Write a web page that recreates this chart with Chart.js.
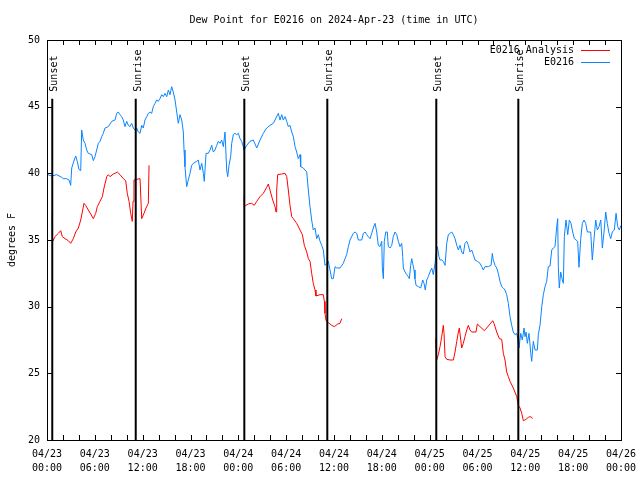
<!DOCTYPE html>
<html>
<head>
<meta charset="utf-8">
<script src="https://cdn.jsdelivr.net/npm/chart.js@4/dist/chart.umd.min.js"></script>
<style>
  html, body { margin: 0; padding: 0; background: #fff; }
  canvas { display: block; }
</style>
</head>
<body>
<canvas id="dew-chart" width="640" height="480"></canvas>
<script>
// Chart text
const FONT = "'DejaVu Sans Mono', monospace";
const chartTitle = 'Dew Point for E0216 on 2024-Apr-23 (time in UTC)';
const yAxisTitle = 'degrees F';
const startMonth = '04';
const startDay = 23;

// Series names / colours
const seriesNames = ['E0216 Analysis', 'E0216'];
const seriesColors = ['#ff0000', '#0a84ff'];

// Sunset / sunrise markers (hours since 04/23 00:00 UTC)
const sunHours = [0.66, 11.13, 24.75, 35.16, 48.83, 59.12];
const sunLabels = ['Sunset', 'Sunrise', 'Sunset', 'Sunrise', 'Sunset', 'Sunrise'];
const sunLineTop = 45.6;

// Observed dew point, E0216 (hours, degrees F)
const blueHours = [
    0.09, 0.59, 1.22, 1.84, 2.04, 2.47, 2.76, 2.97, 3.10, 3.42,
    3.60, 3.80, 4.01, 4.23, 4.35, 4.55, 4.77, 4.98, 5.18, 5.61,
    5.81, 6.02, 6.23, 6.44, 6.65, 6.86, 7.06, 7.28, 7.69, 8.12,
    8.53, 8.74, 8.94, 9.16, 9.37, 9.57, 9.78, 10.0, 10.2, 10.41,
    10.62, 10.83, 11.04, 11.25, 11.45, 11.67, 11.88, 12.08, 12.29, 12.51,
    12.71, 12.92, 13.13, 13.33, 13.55, 13.76, 13.96, 14.17, 14.39, 14.59,
    14.80, 15.02, 15.22, 15.43, 15.64, 15.84, 16.06, 16.27, 16.47, 16.68,
    16.90, 17.10, 17.19, 17.31, 17.52, 17.72, 17.94, 18.15, 18.35, 18.78,
    18.98, 19.19, 19.41, 19.61, 19.73, 19.95, 20.23, 20.45, 20.66, 20.86,
    21.07, 21.29, 21.49, 21.70, 21.91, 22.12, 22.33, 22.54, 22.67, 22.83,
    23.04, 23.17, 23.37, 23.58, 23.80, 24.00, 24.21, 24.42, 24.62, 24.71,
    25.05, 25.46, 25.88, 26.31, 26.72, 27.13, 27.56, 27.97, 28.39, 28.60,
    29.01, 29.23, 29.44, 29.64, 29.86, 30.07, 30.27, 30.48, 30.70, 30.90,
    31.11, 31.32, 31.52, 31.74, 31.82, 32.15, 32.58, 32.78, 32.99, 33.20,
    33.40, 33.62, 33.83, 34.03, 34.25, 34.46, 34.66, 34.87, 35.09, 35.29,
    35.50, 35.71, 35.91, 36.13, 36.34, 36.75, 37.17, 37.38, 37.59, 37.80,
    38.01, 38.42, 38.64, 38.85, 39.05, 39.48, 39.68, 39.89, 40.11, 40.31,
    40.52, 40.73, 40.93, 41.15, 41.36, 41.56, 41.77, 41.99, 42.06, 42.19,
    42.31, 42.49, 42.69, 42.81, 43.03, 43.24, 43.44, 43.65, 43.87, 44.07,
    44.28, 44.50, 44.62, 44.70, 44.91, 45.12, 45.32, 45.45, 45.62, 45.75,
    45.87, 46.04, 46.16, 46.29, 46.58, 46.88, 47.13, 47.29, 47.45, 47.63,
    47.83, 48.04, 48.26, 48.46, 48.67, 48.80, 48.96, 49.17, 49.30, 49.51,
    49.71, 49.93, 50.14, 50.34, 50.55, 50.77, 50.97, 51.18, 51.40, 51.60,
    51.81, 52.02, 52.22, 52.43, 52.65, 52.85, 53.06, 53.27, 53.48, 53.69,
    53.98, 54.32, 54.53, 54.73, 54.94, 55.36, 55.70, 55.86, 55.98, 56.20,
    56.41, 56.61, 56.82, 57.04, 57.24, 57.45, 57.66, 57.87, 58.08, 58.29,
    58.49, 58.71, 58.92, 59.04, 59.21, 59.42, 59.62, 59.84, 59.96, 60.09,
    60.25, 60.46, 60.68, 60.80, 61.00, 61.22, 61.51, 61.63, 61.84, 62.06,
    62.26, 62.47, 62.68, 62.88, 63.10, 63.31, 63.51, 63.72, 63.94, 64.06,
    64.14, 64.26, 64.44, 64.60, 64.77, 64.89, 65.10, 65.32, 65.52, 65.73,
    65.94, 66.15, 66.36, 66.57, 66.73, 66.95, 67.15, 67.36, 67.57, 67.78,
    67.99, 68.20, 68.40, 68.62, 68.83, 69.03, 69.24, 69.46, 69.66, 69.87,
    70.08, 70.28, 70.50, 70.71, 70.91, 71.16, 71.38, 71.59, 71.79, 72.00
];
const blueValues = [
    39.9, 39.8, 39.9, 39.7, 39.6, 39.6, 39.5, 39.1, 40.4, 41.0,
    41.3, 40.9, 40.3, 40.2, 43.25, 42.5, 42.25, 41.75, 41.5, 41.4,
    40.95, 41.25, 41.75, 42.25, 42.4, 42.75, 43.0, 43.4, 43.5, 43.9,
    44.0, 44.5, 44.6, 44.4, 44.25, 44.0, 43.5, 43.9, 43.6, 43.5,
    43.75, 43.4, 43.25, 43.4, 43.1, 43.0, 43.6, 43.4, 44.0, 44.25,
    44.5, 44.6, 44.5, 45.0, 45.25, 45.5, 45.4, 45.6, 45.9, 45.75,
    46.0, 45.75, 46.25, 45.9, 46.5, 46.1, 45.5, 44.6, 43.75, 44.4,
    44.0, 43.1, 41.75, 40.5, 39.0, 39.5, 40.0, 40.6, 40.75, 40.9,
    41.0, 40.25, 40.75, 40.0, 39.4, 41.5, 41.5, 41.75, 42.1, 41.6,
    41.75, 42.1, 42.4, 42.25, 42.5, 42.0, 43.1, 40.25, 39.75, 40.6,
    41.25, 42.25, 42.9, 43.0, 42.9, 43.0, 42.6, 42.4, 42.0, 41.75,
    42.1, 42.4, 42.5, 41.9, 42.5, 43.0, 43.4, 43.6, 43.75, 44.0,
    44.5, 44.0, 44.4, 44.0, 44.25, 43.9, 43.5, 43.6, 43.1, 42.75,
    42.0, 41.6, 41.1, 41.4, 40.5, 40.4, 40.1, 38.75, 37.5, 36.5,
    35.75, 35.9, 35.1, 35.4, 34.9, 34.6, 34.25, 33.1, 33.25, 33.4,
    32.75, 32.1, 32.1, 33.0, 32.9, 32.9, 33.25, 33.6, 33.9, 34.5,
    35.0, 35.5, 35.6, 35.5, 35.0, 35.0, 35.5, 35.6, 35.4, 35.25,
    35.1, 35.5, 35.9, 36.25, 35.6, 34.6, 34.5, 34.9, 33.0, 32.1,
    34.9, 35.6, 35.6, 34.5, 34.4, 34.6, 35.25, 35.6, 35.4, 34.9,
    34.5, 34.75, 33.75, 32.9, 32.6, 32.4, 32.25, 32.1, 33.1, 33.6,
    33.25, 32.75, 32.1, 31.6, 31.5, 31.4, 32.0, 31.75, 31.25, 32.0,
    32.25, 32.6, 32.9, 32.4, 33.25, 33.9, 34.5, 33.75, 33.5, 33.5,
    33.4, 33.1, 34.75, 35.4, 35.5, 35.6, 35.4, 35.1, 34.6, 34.25,
    34.6, 34.1, 33.95, 34.75, 34.9, 34.6, 34.1, 34.25, 33.9, 33.5,
    33.4, 33.25, 33.0, 32.75, 33.0, 33.0, 33.1, 34.0, 33.5, 33.1,
    32.9, 32.5, 31.9, 31.5, 31.4, 31.25, 30.9, 30.25, 29.25, 28.6,
    28.1, 27.9, 28.0, 27.6, 26.9, 28.0, 27.5, 28.4, 27.75, 28.1,
    27.25, 28.0, 26.5, 25.9, 27.4, 26.75, 26.75, 27.9, 28.6, 30.0,
    30.9, 31.5, 31.9, 33.0, 33.05, 34.25, 34.4, 34.5, 36.0, 36.6,
    33.0, 31.4, 32.6, 32.1, 31.75, 35.25, 36.5, 35.4, 36.5, 36.25,
    35.6, 35.1, 35.0, 34.9, 32.95, 35.1, 36.25, 36.5, 36.25, 35.6,
    35.6, 35.6, 33.5, 35.1, 36.5, 35.75, 36.0, 36.5, 34.4, 35.6,
    37.1, 36.25, 35.5, 35.1, 35.6, 35.75, 37.0, 36.0, 35.75, 36.1
];

// Analysis dew point (null = no analysis, line breaks there)
const redHours = [
    0.66, 0.69, 1.00, 1.42, 1.72, 1.92, 2.26, 2.67, 2.97, 3.30,
    3.60, 3.93, 4.23, 4.43, 4.64, 4.85, 5.18, 5.48, 5.81, 6.11,
    6.31, 6.65, 6.94, 7.15, 7.49, 7.69, 7.90, 8.32, 8.53, 8.82,
    9.16, 9.57, 9.87, 10.07, 10.29, 10.50, 10.70, 10.79, 10.91, 11.25,
    11.67, 11.88, 12.17, 12.42, 12.71, 12.80,
    18.0,
    24.75, 24.76, 24.96, 25.25, 25.68, 26.00, 26.31, 26.72, 27.13, 27.56,
    27.76, 27.97, 28.31, 28.60, 28.73, 28.81, 28.94, 29.44, 29.86, 30.07,
    30.27, 30.48, 30.70, 30.90, 31.32, 31.74, 32.03, 32.28, 32.58, 32.78,
    32.99, 33.20, 33.40, 33.62, 33.74, 34.25, 34.66, 34.79, 34.87, 35.00,
    35.29, 35.71, 36.04, 36.47, 36.75, 36.97,
    42.0,
    48.76, 48.88, 49.09, 49.30, 49.51, 49.71, 49.80, 49.93, 50.14, 50.55,
    50.97, 51.18, 51.40, 51.60, 51.72, 51.90, 52.02, 52.22, 52.43, 52.65,
    52.85, 53.06, 53.27, 53.81, 53.98, 54.32, 54.86, 55.36, 55.91, 56.07,
    56.41, 56.74, 57.04, 57.24, 57.45, 57.66, 57.87, 58.08, 58.49, 58.92,
    59.12, 59.34, 59.55, 59.75, 59.96, 60.18, 60.38, 60.59, 60.80, 60.88
];
const redValues = [
    36.9, 34.85, 35.25, 35.5, 35.7, 35.25, 35.1, 34.95, 34.75, 35.1,
    35.6, 35.9, 36.5, 37.1, 37.75, 37.6, 37.25, 36.95, 36.6, 37.0,
    37.5, 37.9, 38.25, 38.9, 39.75, 39.9, 39.75, 39.95, 40.0, 40.1,
    39.9, 39.6, 39.45, 38.5, 37.9, 37.0, 36.4, 37.9, 39.5, 39.55,
    39.6, 36.6, 37.0, 37.4, 37.75, 40.6,
    null,
    38.25, 37.5, 37.6, 37.7, 37.75, 37.6, 37.9, 38.25, 38.5, 38.95,
    39.2, 38.75, 38.0, 37.5, 37.1, 38.75, 39.9, 39.95, 40.0, 39.75,
    38.75, 37.6, 36.75, 36.6, 36.25, 35.75, 35.4, 34.6, 34.1, 33.6,
    33.4, 32.5, 31.75, 31.25, 30.8, 30.9, 30.9, 30.4, 29.5, 28.95,
    28.8, 28.6, 28.5, 28.7, 28.75, 29.1,
    null,
    27.6, 26.0, 26.4, 27.0, 27.75, 28.6, 28.0, 26.25, 26.05, 26.0,
    26.0, 26.6, 27.4, 28.1, 28.4, 27.5, 26.9, 27.25, 27.75, 28.25,
    28.6, 28.25, 28.1, 28.1, 28.7, 28.5, 28.2, 28.55, 28.95, 28.75,
    28.1, 27.6, 27.55, 26.5, 26.0, 25.1, 24.75, 24.4, 23.9, 23.25,
    22.6, 22.4, 22.0, 21.45, 21.5, 21.6, 21.7, 21.75, 21.7, 21.6
];

// Axis ranges
const xMin = 0, xMax = 72, xStep = 2, xLabelEvery = 6;
const yMin = 20, yMax = 50, yStep = 5;

function toPoints(xs, ys) {
    return xs.map((x, i) => ({ x: x, y: ys[i] }));
}

function pad2(n) {
    return String(n).padStart(2, '0');
}

// Two line tick label: "04/23" over "00:00"
function timeLabel(hours) {
    if (hours % xLabelEvery !== 0) return '';
    const day = startDay + Math.floor(hours / 24);
    return [startMonth + '/' + pad2(day), pad2(hours % 24) + ':00'];
}

// Draws the gnuplot style frame, inward ticks, labels and key
const gnuplotDecor = {
    id: 'gnuplotDecor',
    afterDraw(chart) {
        const { ctx, chartArea: a, scales } = chart;
        const x = scales.x, y = scales.y;
        ctx.save();
        ctx.strokeStyle = '#000';
        ctx.lineWidth = 1;
        ctx.strokeRect(a.left + 0.5, a.top + 0.5, a.right - a.left, a.bottom - a.top);

        // inward ticks, mirrored on both sides
        ctx.beginPath();
        x.ticks.forEach(t => {
            const px = Math.round(x.getPixelForValue(t.value)) + 0.5;
            ctx.moveTo(px, a.bottom);
            ctx.lineTo(px, a.bottom - 5);
            ctx.moveTo(px, a.top);
            ctx.lineTo(px, a.top + 5);
        });
        y.ticks.forEach(t => {
            const py = Math.round(y.getPixelForValue(t.value)) + 0.5;
            ctx.moveTo(a.left, py);
            ctx.lineTo(a.left + 5, py);
            ctx.moveTo(a.right, py);
            ctx.lineTo(a.right - 5, py);
        });
        ctx.stroke();

        ctx.fillStyle = '#000';
        ctx.font = '10px ' + FONT;

        // title
        ctx.textAlign = 'center';
        ctx.textBaseline = 'middle';
        ctx.fillText(chartTitle, (a.left + a.right) / 2, 20);

        // y axis title
        ctx.save();
        ctx.translate(12, (a.top + a.bottom) / 2);
        ctx.rotate(-Math.PI / 2);
        ctx.fillText(yAxisTitle, 0, 0);
        ctx.restore();

        // Sunset / Sunrise labels above their lines
        ctx.textAlign = 'left';
        ctx.textBaseline = 'alphabetic';
        sunHours.forEach((h, i) => {
            const px = x.getPixelForValue(h);
            const py = y.getPixelForValue(sunLineTop) - 7;
            ctx.save();
            ctx.translate(px + 5, py);
            ctx.rotate(-Math.PI / 2);
            ctx.fillText(sunLabels[i], 0, 0);
            ctx.restore();
        });

        // key, top right
        ctx.textAlign = 'right';
        ctx.textBaseline = 'middle';
        seriesNames.forEach((name, i) => {
            const ky = a.top + 10 + i * 12;
            ctx.fillStyle = '#000';
            ctx.fillText(name, a.right - 47, ky);
            ctx.strokeStyle = seriesColors[i];
            ctx.beginPath();
            ctx.moveTo(a.right - 40, ky + 0.5);
            ctx.lineTo(a.right - 11, ky + 0.5);
            ctx.stroke();
        });
        ctx.restore();
    }
};

const sunDatasets = sunHours.map(h => ({
    label: 'sun',
    data: [{ x: h, y: yMin }, { x: h, y: sunLineTop }],
    borderColor: '#000',
    borderWidth: 2,
    pointRadius: 0
}));

Chart.defaults.font.family = FONT;
Chart.defaults.font.size = 10;
Chart.defaults.color = '#000';

const ctx = document.getElementById('dew-chart').getContext('2d');
new Chart(ctx, {
    type: 'line',
    data: {
        datasets: [
            ...sunDatasets,
            {
                label: seriesNames[0],
                data: toPoints(redHours, redValues),
                borderColor: seriesColors[0],
                borderWidth: 1,
                pointRadius: 0,
                tension: 0,
                spanGaps: false
            },
            {
                label: seriesNames[1],
                data: toPoints(blueHours, blueValues),
                borderColor: seriesColors[1],
                borderWidth: 1,
                pointRadius: 0,
                tension: 0
            }
        ]
    },
    options: {
        responsive: false,
        animation: false,
        layout: { padding: { top: 40, right: 19, bottom: 0, left: 0 } },
        plugins: {
            legend: { display: false },
            tooltip: { enabled: false }
        },
        scales: {
            x: {
                type: 'linear',
                min: xMin,
                max: xMax,
                grid: { display: false, drawTicks: false },
                border: { display: false },
                ticks: {
                    stepSize: xStep,
                    autoSkip: false,
                    maxRotation: 0,
                    padding: 7,
                    font: { size: 10, lineHeight: 1.4 },
                    callback: v => timeLabel(v)
                },
                afterFit: s => {
                    s.height = 40;
                    s.paddingLeft = 0;
                    s.paddingRight = 0;
                }
            },
            y: {
                min: yMin,
                max: yMax,
                grid: { display: false, drawTicks: false },
                border: { display: false },
                ticks: {
                    stepSize: yStep,
                    padding: 7,
                    font: { size: 10 }
                },
                afterFit: s => {
                    s.width = 47;
                    s.paddingTop = 0;
                    s.paddingBottom = 0;
                }
            }
        }
    },
    plugins: [gnuplotDecor]
});
</script>
</body>
</html>
